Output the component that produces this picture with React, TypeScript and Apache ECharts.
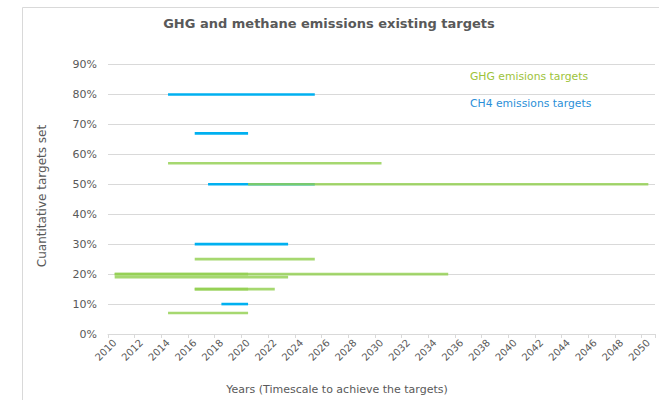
import React, { useEffect, useRef } from "react";
import * as echarts from "echarts";

const years: string[] = [];
for (let y = 2010; y <= 2050; y++) years.push(String(y));

const yTicks = [0, 10, 20, 30, 40, 50, 60, 70, 80, 90];

// GHG emission targets: start year, end year, share (%)
const ghgStart = [2014, 2020, 2016, 2010, 2010, 2010, 2016, 2016, 2014];
const ghgEnd = [2030, 2050, 2025, 2035, 2020, 2023, 2022, 2020, 2020];
const ghgValue = [57, 50, 25, 20, 20, 19, 15, 15, 7];

// CH4 emission targets
const ch4Start = [2014, 2016, 2017, 2016, 2018];
const ch4End = [2025, 2020, 2025, 2023, 2020];
const ch4Value = [80, 67, 50, 30, 10];

const FONT = "'DejaVu Sans', Verdana, sans-serif";
const GREEN = "#92d050";
const BLUE = "#00b0f0";

function rows(s: number[], e: number[], v: number[]) {
  return s.map((st, i) => [st - 2010, e[i] - 2010, v[i]]);
}

function segRender(color: string, opacity: number) {
  return (params: any, api: any) => {
    const a = api.coord([api.value(0), api.value(2)]);
    const b = api.coord([api.value(1), api.value(2)]);
    return {
      type: "line",
      shape: { x1: a[0], y1: a[1], x2: b[0], y2: b[1] },
      style: { stroke: color, lineWidth: 2.6, opacity },
    };
  };
}

export default function App() {
  const ref = useRef<HTMLDivElement>(null);
  useEffect(() => {
    if (!ref.current) return;
    const chart = echarts.init(ref.current, undefined, { renderer: "svg" });
    chart.setOption({
      animation: false,
      backgroundColor: "#ffffff",
      textStyle: { fontFamily: FONT },
      grid: { left: 108, right: 4, top: 64.5, bottom: 66 },
      xAxis: {
        type: "category",
        data: years,
        boundaryGap: true,
        axisLine: { lineStyle: { color: "#d9d9d9", width: 1 } },
        axisTick: { show: true, interval: 1, length: 4, lineStyle: { color: "#d9d9d9" } },
        axisLabel: {
          interval: 1,
          rotate: 45,
          color: "#595959",
          fontSize: 10,
          fontFamily: FONT,
          margin: 7,
        },
        splitLine: { show: false },
      },
      yAxis: {
        type: "value",
        min: 0,
        max: 90,
        interval: 10,
        axisLine: { show: false },
        axisTick: { show: false },
        axisLabel: {
          formatter: (v: number) => (yTicks.includes(v) ? v + "%" : ""),
          color: "#595959",
          fontSize: 11,
          fontFamily: FONT,
          margin: 11,
        },
        splitLine: { lineStyle: { color: "#d9d9d9", width: 1 } },
      },
      series: [
        {
          type: "custom",
          name: "CH4 emissions targets",
          data: rows(ch4Start, ch4End, ch4Value),
          encode: { x: [0, 1], y: 2 },
          renderItem: segRender(BLUE, 1),
          z: 2,
        },
        {
          type: "custom",
          name: "GHG emisions targets",
          data: rows(ghgStart, ghgEnd, ghgValue),
          encode: { x: [0, 1], y: 2 },
          renderItem: segRender(GREEN, 0.82),
          z: 3,
        },
      ],
      graphic: [
        {
          type: "rect",
          z: -10,
          silent: true,
          shape: { x: 22.5, y: 7.5, width: 700, height: 500 },
          style: { fill: "none", stroke: "#d9d9d9", lineWidth: 1 },
        },
        {
          type: "text",
          x: 329,
          y: 23,
          style: {
            text: "GHG and methane emissions existing targets",
            fill: "#595959",
            font: `bold 13px ${FONT}`,
            align: "center",
            verticalAlign: "middle",
          },
        },
        {
          type: "rect",
          silent: true,
          shape: { x: 461, y: 64, width: 169, height: 48 },
          style: { fill: "#ffffff" },
        },
        {
          type: "text",
          x: 470,
          y: 76,
          style: {
            text: "GHG emisions targets",
            fill: "#9dc33b",
            font: `10.8px ${FONT}`,
            verticalAlign: "middle",
          },
        },
        {
          type: "text",
          x: 470,
          y: 103,
          style: {
            text: "CH4 emissions targets",
            fill: "#2b8fd8",
            font: `10.8px ${FONT}`,
            verticalAlign: "middle",
          },
        },
        {
          type: "text",
          x: 337,
          y: 389,
          style: {
            text: "Years (Timescale to achieve the targets)",
            fill: "#595959",
            font: `11px ${FONT}`,
            align: "center",
            verticalAlign: "middle",
          },
        },
        {
          type: "text",
          x: 42,
          y: 196,
          rotation: Math.PI / 2,
          style: {
            text: "Cuantitative targets set",
            fill: "#595959",
            font: `12px ${FONT}`,
            align: "center",
            verticalAlign: "middle",
          },
        },
      ],
    });
    return () => chart.dispose();
  }, []);
  return (
    <div
      ref={ref}
      style={{ position: "fixed", left: 0, top: 0, width: 659, height: 400 }}
    />
  );
}
